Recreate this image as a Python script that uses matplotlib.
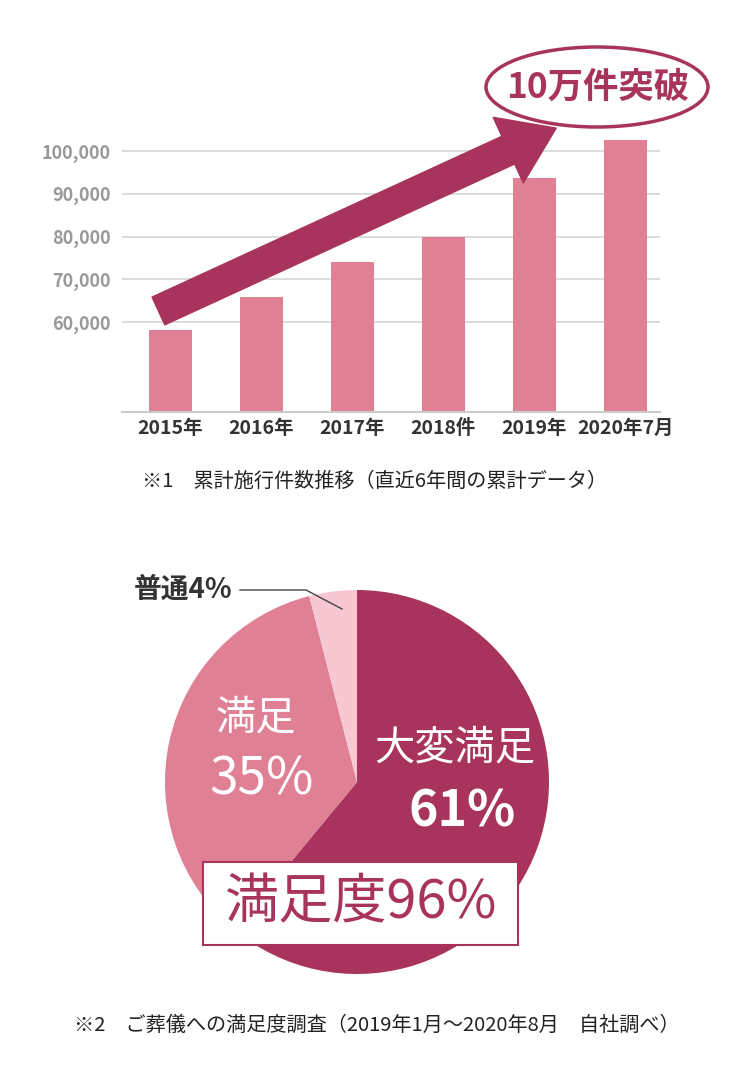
import matplotlib
matplotlib.use("Agg")
import matplotlib.pyplot as plt
import matplotlib.patches as mpatches

plt.rcParams['font.family'] = ['Noto Sans CJK JP', 'DejaVu Sans']

# bar chart data
years = ["2015年", "2016年", "2017年", "2018件", "2019年", "2020年7月"]
counts = [58100, 65800, 74000, 80000, 93700, 102500]
yticks = [60000, 70000, 80000, 90000, 100000]
ytick_labels = ["60,000", "70,000", "80,000", "90,000", "100,000"]

# pie data
pie_labels = ["大変満足", "満足", "普通"]
pie_values = [61, 35, 4]

DARK = "#A8345E"
MID = "#E08095"
LIGHT = "#F7C8D2"

W, H = 750, 1088
fig = plt.figure(figsize=(W / 100, H / 100), dpi=100)


def fx(px):
    return px / W


def fy(py):
    return 1 - py / H


# ---- bar chart ----
ax = fig.add_axes([fx(122), fy(412), fx(660) - fx(122), fy(117) - fy(412)])
ax.bar(range(len(years)), counts, width=0.47, color=MID, zorder=2)
ax.set_xlim(-0.53, 5.38)
ax.set_ylim(38950, 108000)
ax.set_yticks(yticks)
ax.set_yticklabels(ytick_labels, color="#999999", fontsize=13, fontweight="bold")
ax.set_xticks(range(len(years)))
ax.set_xticklabels(years, color="#333333", fontsize=14, fontweight="bold")
ax.tick_params(length=0, pad=5)
ax.tick_params(axis="y", pad=8)
ax.grid(axis="y", color="#d5d5d5", lw=1.2, zorder=0)
for s in ["top", "right", "left"]:
    ax.spines[s].set_visible(False)
ax.spines["bottom"].set_color("#cccccc")
ax.spines["bottom"].set_linewidth(1.5)

ax.annotate("", xy=(4.24, 105400), xytext=(-0.13, 62600),
            arrowprops=dict(arrowstyle="simple,head_width=52,head_length=38,tail_width=22",
                            mutation_scale=1, color=DARK, shrinkA=0, shrinkB=0),
            zorder=5)

ell = mpatches.Ellipse((fx(597), fy(87)), fx(222), 80 / H, transform=fig.transFigure,
                       facecolor="white", edgecolor=DARK, lw=2.5)
fig.add_artist(ell)
fig.text(fx(598), fy(87), "10万件突破", color=DARK, fontsize=25.5, fontweight="bold",
         ha="center", va="center")

fig.text(fx(375), fy(481), "※1　累計施行件数推移（直近6年間の累計データ）",
         color="#222222", fontsize=14.5, ha="center", va="center")

# ---- pie chart ----
pax = fig.add_axes([fx(165), fy(974), fx(384), 384 / H])
pax.pie(pie_values, colors=[DARK, MID, LIGHT], startangle=90, counterclock=False,
        radius=1.0)
pax.set_xlim(-1, 1)
pax.set_ylim(-1, 1)
pax.set_aspect("equal")
pax.axis("off")

fig.text(fx(455), fy(748), pie_labels[0], color="white", fontsize=29, ha="center", va="center")
fig.text(fx(462), fy(812), f"{pie_values[0]}%", color="white", fontsize=36,
         fontweight="bold", ha="center", va="center")
fig.text(fx(256), fy(718), pie_labels[1], color="white", fontsize=29, ha="center", va="center")
fig.text(fx(262), fy(780), f"{pie_values[1]}%", color="white", fontsize=37,
         ha="center", va="center")
fig.text(fx(183), fy(590), f"{pie_labels[2]}{pie_values[2]}%", color="#333333", fontsize=20,
         fontweight="bold", ha="center", va="center")
fig.add_artist(plt.Line2D([fx(240), fx(306), fx(342)], [fy(590), fy(590), fy(609)],
                          transform=fig.transFigure, color="#444444", lw=1.0))

box = mpatches.Rectangle((fx(203), fy(945)), fx(315), 83 / H, transform=fig.transFigure,
                         facecolor="white", edgecolor=DARK, lw=1.5)
fig.add_artist(box)
fig.text(fx(360), fy(903), f"満足度{pie_values[0] + pie_values[1]}%", color=DARK,
         fontsize=39, ha="center", va="center")

fig.text(fx(377), fy(1025), "※2　ご葬儀への満足度調査（2019年1月〜2020年8月　自社調べ）",
         color="#222222", fontsize=14.5, ha="center", va="center")

fig.savefig("out.png", dpi=100, facecolor="white")
